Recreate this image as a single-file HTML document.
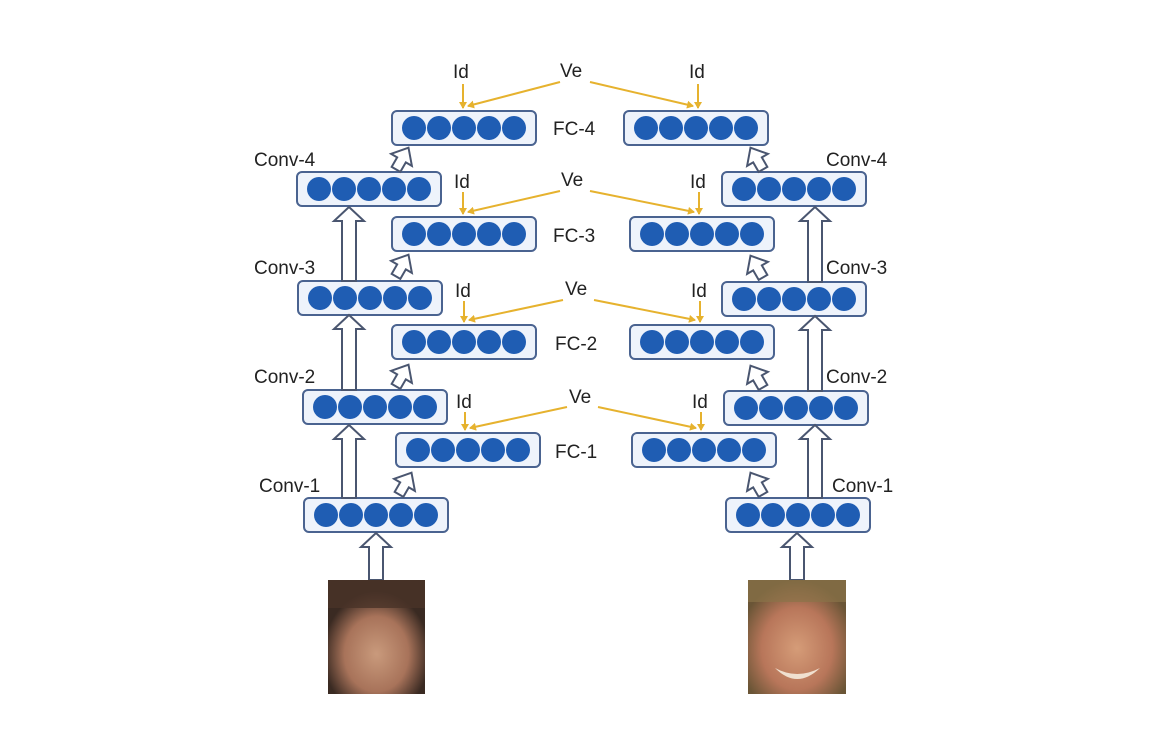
<!DOCTYPE html>
<html><head><meta charset="utf-8"><style>
html,body{margin:0;padding:0;background:#fff;}
svg{display:block}
text{font-family:"Liberation Sans",sans-serif;font-size:19px;fill:#222}
</style></head><body>
<svg width="1166" height="748" viewBox="0 0 1166 748" xmlns="http://www.w3.org/2000/svg">
<defs>
<g id="box">
<rect x="0" y="0" width="144" height="34" rx="5" fill="#eef3fb" stroke="#4a6390" stroke-width="2"/>
<circle cx="22" cy="17" r="12" fill="#1f5db3"/>
<circle cx="47" cy="17" r="12" fill="#1f5db3"/>
<circle cx="72" cy="17" r="12" fill="#1f5db3"/>
<circle cx="97" cy="17" r="12" fill="#1f5db3"/>
<circle cx="122" cy="17" r="12" fill="#1f5db3"/>
</g>
<polygon id="sa" points="-5,12 -5,1 -12,1 0,-13 12,1 5,1 5,12" fill="#fff" stroke="#4a5670" stroke-width="2"/>
<marker id="ah" markerWidth="8" markerHeight="8" refX="6" refY="4" orient="auto" markerUnits="userSpaceOnUse"><path d="M0,0 L7,4 L0,8 z" fill="#e6b22e"/></marker>
</defs>

<use href="#box" x="392" y="111"/>
<use href="#box" x="392" y="217"/>
<use href="#box" x="392" y="325"/>
<use href="#box" x="396" y="433"/>
<use href="#box" x="297" y="172"/>
<use href="#box" x="298" y="281"/>
<use href="#box" x="303" y="390"/>
<use href="#box" x="304" y="498"/>
<use href="#box" x="624" y="111"/>
<use href="#box" x="630" y="217"/>
<use href="#box" x="630" y="325"/>
<use href="#box" x="632" y="433"/>
<use href="#box" x="722" y="172"/>
<use href="#box" x="722" y="282"/>
<use href="#box" x="724" y="391"/>
<use href="#box" x="726" y="498"/>

<g fill="#fff" stroke="#4a5670" stroke-width="2">
<polygon points="342,498 342,439 334,439 349,425 364,439 356,439 356,498"/>
<polygon points="342,390 342,329 334,329 349,315 364,329 356,329 356,390"/>
<polygon points="342,281 342,221 334,221 349,207 364,221 356,221 356,281"/>
<polygon points="369,580 369,547 361,547 376,533 391,547 383,547 383,580"/>
<polygon points="808,498 808,439 800,439 815,425 830,439 822,439 822,498"/>
<polygon points="808,391 808,330 800,330 815,316 830,330 822,330 822,391"/>
<polygon points="808,282 808,221 800,221 815,207 830,221 822,221 822,282"/>
<polygon points="790,580 790,547 782,547 797,533 812,547 804,547 804,580"/>
</g>
<use href="#sa" transform="translate(402,159) rotate(30)"/>
<use href="#sa" transform="translate(402,266) rotate(30)"/>
<use href="#sa" transform="translate(402,376) rotate(30)"/>
<use href="#sa" transform="translate(405,484) rotate(30)"/>
<use href="#sa" transform="translate(757,159) rotate(-30)"/>
<use href="#sa" transform="translate(757,267) rotate(-30)"/>
<use href="#sa" transform="translate(757,377) rotate(-30)"/>
<use href="#sa" transform="translate(757,484) rotate(-30)"/>

<g stroke="#e6b22e" stroke-width="2" fill="none" marker-end="url(#ah)">
<line x1="463" y1="84" x2="463" y2="108"/>
<line x1="560" y1="82" x2="468" y2="106"/>
<line x1="698" y1="84" x2="698" y2="108"/>
<line x1="590" y1="82" x2="693" y2="106"/>
<line x1="463" y1="192" x2="463" y2="214"/>
<line x1="560" y1="191" x2="468" y2="212"/>
<line x1="699" y1="192" x2="699" y2="214"/>
<line x1="590" y1="191" x2="694" y2="212"/>
<line x1="464" y1="301" x2="464" y2="322"/>
<line x1="563" y1="300" x2="469" y2="320"/>
<line x1="700" y1="301" x2="700" y2="322"/>
<line x1="594" y1="300" x2="695" y2="320"/>
<line x1="465" y1="412" x2="465" y2="430"/>
<line x1="567" y1="407" x2="470" y2="428"/>
<line x1="701" y1="412" x2="701" y2="430"/>
<line x1="598" y1="407" x2="696" y2="428"/>
</g>

<text x="453" y="78">Id</text><text x="560" y="77">Ve</text><text x="689" y="78">Id</text>
<text x="454" y="188">Id</text><text x="561" y="186">Ve</text><text x="690" y="188">Id</text>
<text x="455" y="297">Id</text><text x="565" y="295">Ve</text><text x="691" y="297">Id</text>
<text x="456" y="408">Id</text><text x="569" y="403">Ve</text><text x="692" y="408">Id</text>
<text x="553" y="135">FC-4</text>
<text x="553" y="242">FC-3</text>
<text x="555" y="350">FC-2</text>
<text x="555" y="458">FC-1</text>
<text x="254" y="166">Conv-4</text>
<text x="254" y="274">Conv-3</text>
<text x="254" y="383">Conv-2</text>
<text x="259" y="492">Conv-1</text>
<text x="826" y="166">Conv-4</text>
<text x="826" y="274">Conv-3</text>
<text x="826" y="383">Conv-2</text>
<text x="832" y="492">Conv-1</text>

<defs>
<radialGradient id="f1" cx="0.5" cy="0.65" r="0.55"><stop offset="0" stop-color="#c99a7c"/><stop offset="0.6" stop-color="#a8735a"/><stop offset="1" stop-color="#3a2a22"/></radialGradient>
<radialGradient id="f2" cx="0.5" cy="0.6" r="0.6"><stop offset="0" stop-color="#d59c78"/><stop offset="0.6" stop-color="#b8765a"/><stop offset="1" stop-color="#6a5536"/></radialGradient>
</defs>
<rect x="328" y="580" width="97" height="114" fill="url(#f1)"/>
<rect x="328" y="580" width="97" height="28" fill="#4a3328" opacity="0.8"/>
<rect x="748" y="580" width="98" height="114" fill="url(#f2)"/>
<rect x="748" y="580" width="98" height="22" fill="#8a7448" opacity="0.7"/>
<path d="M775 668 Q797 680 820 668 Q797 690 775 668Z" fill="#f0e0d0"/>
</svg>
</body></html>
